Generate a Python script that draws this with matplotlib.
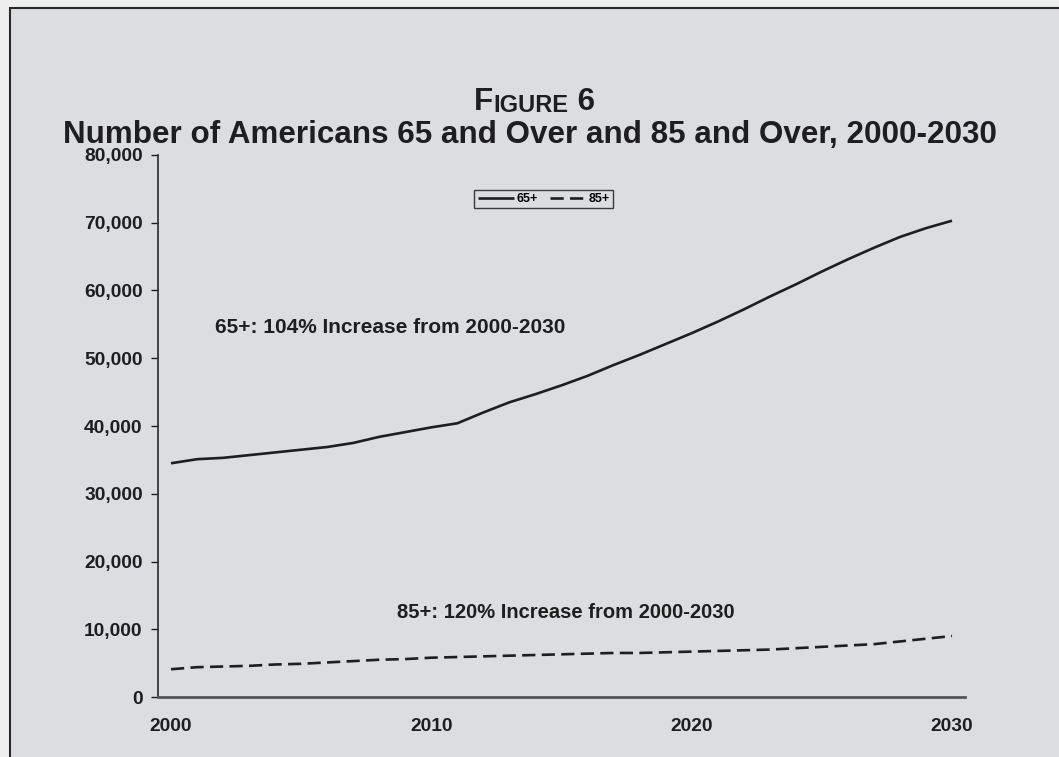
import matplotlib.pyplot as plt
from matplotlib.patches import Rectangle
import numpy as np

plt.rcParams['font.family'] = ['Liberation Sans', 'DejaVu Sans']

years = list(range(2000, 2031))

# thousands of people
age_65_plus = [34.5, 35.1, 35.3, 35.7, 36.1, 36.5, 36.9, 37.5, 38.4, 39.1,
               39.8, 40.4, 42.0, 43.5, 44.7, 46.0, 47.4, 49.0, 50.5, 52.1,
               53.7, 55.4, 57.2, 59.1, 60.9, 62.8, 64.6, 66.3, 67.9, 69.2,
               70.3]
age_85_plus = [4.1, 4.4, 4.5, 4.6, 4.8, 4.9, 5.1, 5.3, 5.5, 5.6,
               5.8, 5.9, 6.0, 6.1, 6.2, 6.3, 6.4, 6.5, 6.5, 6.6,
               6.7, 6.8, 6.9, 7.0, 7.2, 7.4, 7.6, 7.8, 8.2, 8.6,
               9.0]

series_labels = ['65+', '85+']
note_65 = '65+: 104% Increase from 2000-2030'
note_85 = '85+: 120% Increase from 2000-2030'

BG = '#dcdde0'
INK = '#1e1e1e'

fig = plt.figure(figsize=(10.59, 7.57), dpi=100)
fig.patch.set_facecolor('#eeeeee')
W, H = 1059, 757

# panel with frame on top/left
fig.patches.append(Rectangle((10 / W, -0.1), 1.2, 1 - 8 / H + 0.1,
                             transform=fig.transFigure, facecolor=BG,
                             edgecolor='#2a2a2a', linewidth=1.5, zorder=-5))

ax = fig.add_axes([158 / W, (H - 697) / H, 807 / W, 542 / H])
ax.set_facecolor('none')

x = np.array(years)
ax.plot(x, np.array(age_65_plus) * 1000, color=INK, lw=1.9,
        label=series_labels[0], solid_capstyle='butt')
ax.plot(x, np.array(age_85_plus) * 1000, color=INK, lw=1.9,
        dashes=(5, 2.4), label=series_labels[1])

ax.set_xlim(1999.5, 2030.5)
ax.set_ylim(0, 80000)
ax.set_yticks(range(0, 80001, 10000))
ax.set_yticklabels([f'{v:,}' for v in range(0, 80001, 10000)])
ax.set_xticks([2000, 2010, 2020, 2030])

for s in ['top', 'right']:
    ax.spines[s].set_visible(False)
ax.spines['left'].set_color('#2a2a2a')
ax.spines['bottom'].set_color('#555555')
ax.spines['left'].set_linewidth(1.2)
ax.spines['bottom'].set_linewidth(2)

ax.tick_params(axis='y', length=5, width=1, pad=6, colors=INK,
               labelsize=13.8)
ax.tick_params(axis='x', length=0, pad=15, colors=INK, labelsize=13.8)
for lab in ax.get_xticklabels() + ax.get_yticklabels():
    lab.set_fontweight('bold')

ax.text(2001.7, 54600, note_65, fontsize=15, fontweight='bold',
        color=INK, va='center', ha='left')
ax.text(2008.7, 12500, note_85, fontsize=14.5, fontweight='bold',
        color=INK, va='center', ha='left')

leg = ax.legend(loc='center', bbox_to_anchor=(0.478, 0.919), ncol=2,
                frameon=True, fancybox=False, handlelength=2.9,
                handletextpad=0.2, columnspacing=1.0, borderpad=0.25,
                prop={'weight': 'bold', 'size': 9})
leg.get_frame().set_edgecolor('#111111')
leg.get_frame().set_facecolor(BG)
leg.get_frame().set_linewidth(1.0)

# title
fig.text(0.5, 1 - 135 / H, 'Number of Americans 65 and Over and 85 and Over, 2000-2030',
         ha='center', va='center', fontsize=22.6, fontweight='bold', color=INK)
t1 = fig.text(474 / W, 1 - 110 / H, 'F', ha='left', va='baseline',
              fontsize=22.5, fontweight='bold', color=INK)
t2 = ax.annotate('IGURE', xy=(1, 0), xycoords=t1, xytext=(0.5, 0),
                 textcoords='offset points', ha='left', va='bottom',
                 fontsize=17, fontweight='bold', color=INK)
t3 = ax.annotate(' 6', xy=(1, 0), xycoords=t2, ha='left', va='bottom',
                 fontsize=22.5, fontweight='bold', color=INK)

fig.savefig('out.png', dpi=100, facecolor=fig.get_facecolor())
